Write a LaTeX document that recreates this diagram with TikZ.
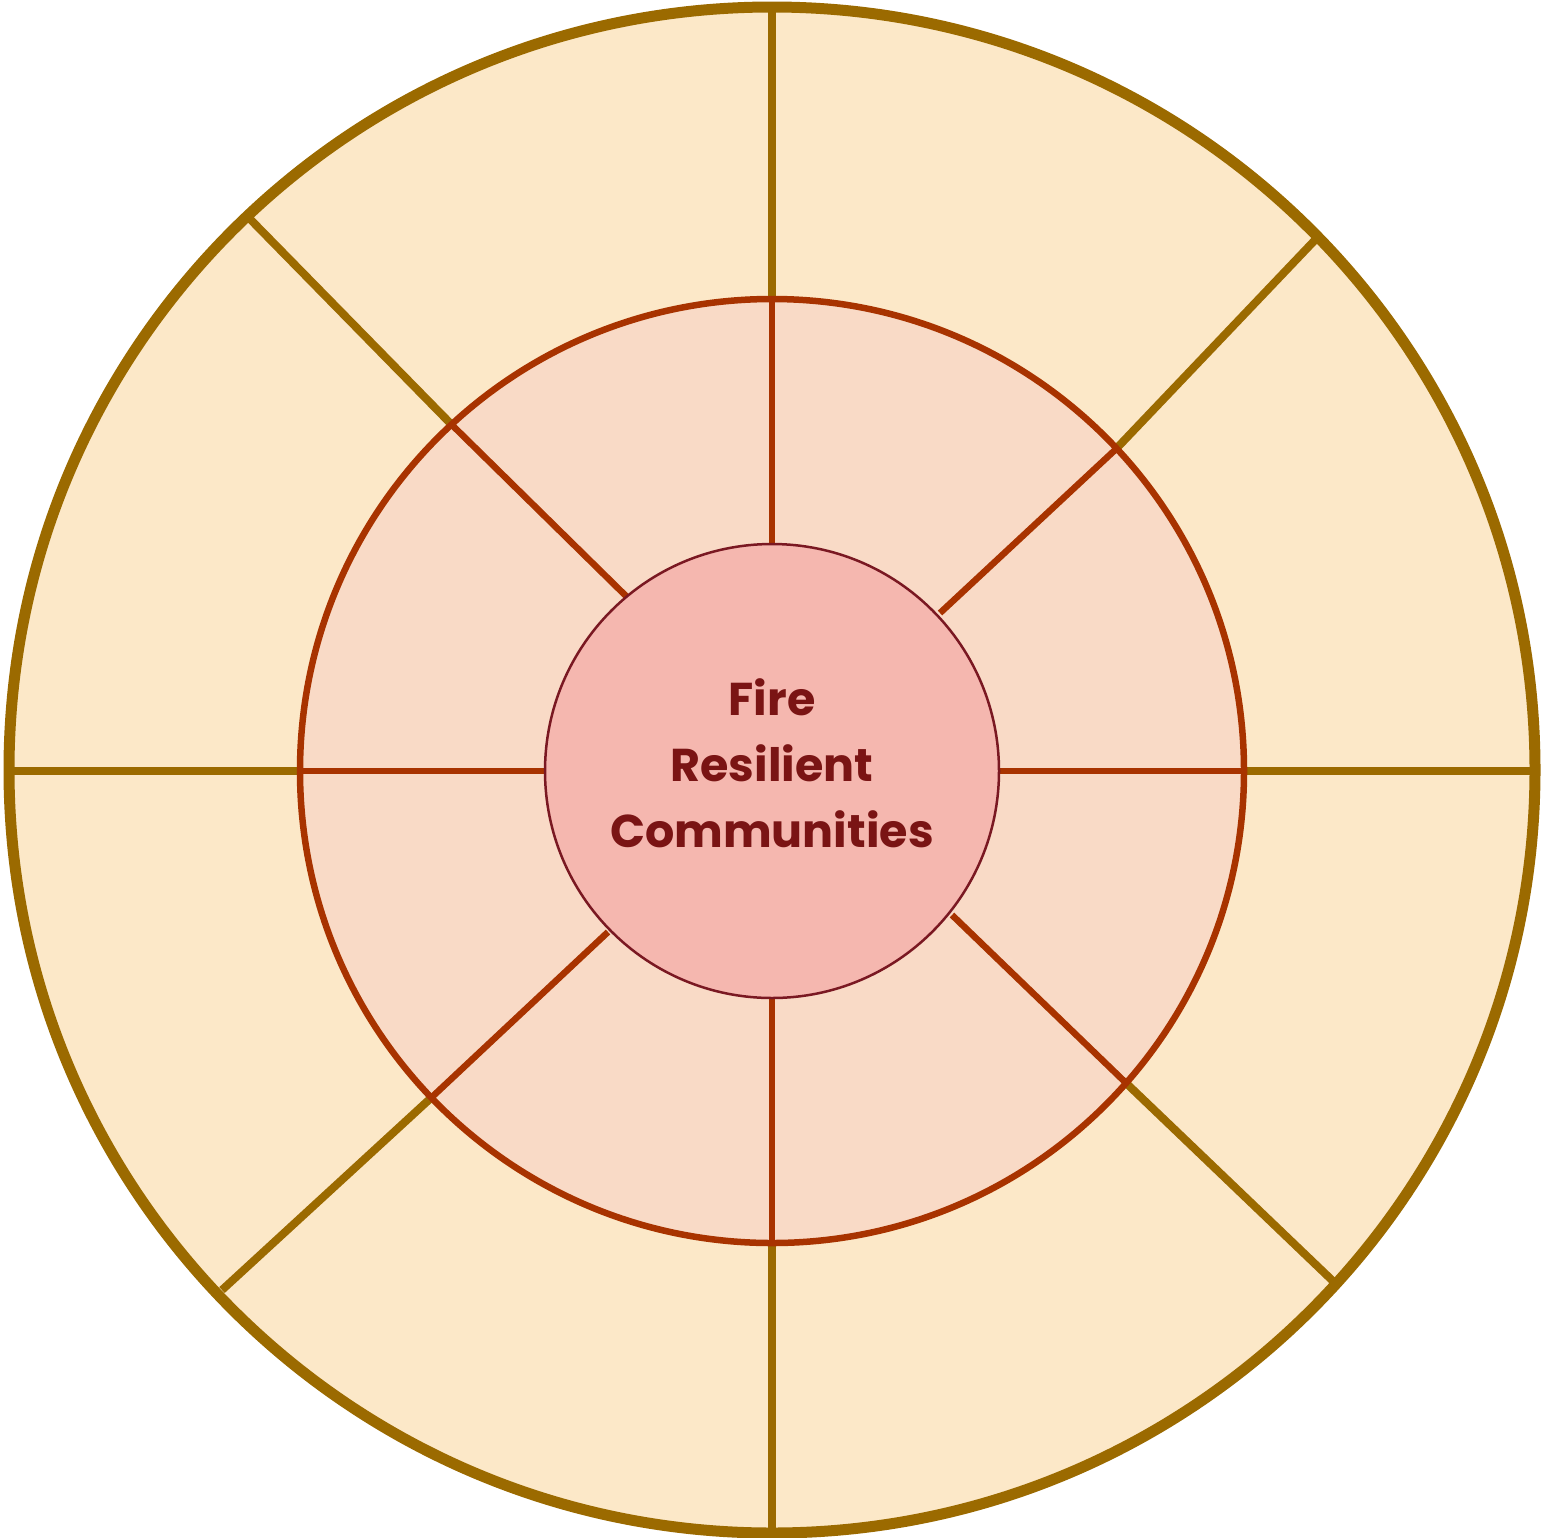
\documentclass[tikz,border=0pt]{standalone}
\usepackage{fontspec}
\setmainfont{Poppins}
\definecolor{outerstroke}{HTML}{9B6A00}
\definecolor{outerfill}{HTML}{FCE8C8}
\definecolor{midstroke}{HTML}{A83300}
\definecolor{midfill}{HTML}{F9DAC6}
\definecolor{innerstroke}{HTML}{7A1822}
\definecolor{innerfill}{HTML}{F5B7AF}
\definecolor{titlecol}{HTML}{7A1414}
\tikzset{
  outerline/.style={draw=outerstroke, line width=8pt},
  midline/.style={draw=midstroke, line width=6.5pt},
}
\begin{document}
\begin{tikzpicture}[x=1pt,y=-1pt]
\useasboundingbox (0,0) rectangle (1554,1537);
% circles
\fill[outerfill] (772,770) circle (763);
\fill[midfill] (772,771) circle (472);
% coordinates
\coordinate (oT) at (772,8);   \coordinate (mT) at (772,299);  \coordinate (iT) at (772,545);
\coordinate (oUR) at (1315,240); \coordinate (mUR) at (1115,450); \coordinate (iUR) at (940,613);
\coordinate (oR) at (1536,771); \coordinate (mR) at (1244,771); \coordinate (iR) at (999,771);
\coordinate (oLR) at (1336,1284); \coordinate (mLR) at (1125,1082); \coordinate (iLR) at (952,915);
\coordinate (oB) at (772,1532); \coordinate (mB) at (772,1243); \coordinate (iB) at (772,998);
\coordinate (oLL) at (222,1290); \coordinate (mLL) at (432,1097); \coordinate (iLL) at (608,932);
\coordinate (oL) at (8,771); \coordinate (mL) at (300,771); \coordinate (iL) at (545,771);
\coordinate (oUL) at (250,219); \coordinate (mUL) at (451,424); \coordinate (iUL) at (627,597);
% outer radial lines
\foreach \d in {T,UR,R,LR,B,LL,L,UL} {
  \draw[outerline] (o\d) -- (m\d);
}
% middle radial lines
\foreach \d in {T,UR,R,LR,B,LL,L,UL} {
  \draw[midline] (m\d) -- (i\d);
}
\draw[midstroke, line width=6.5pt] (772,771) circle (472);
\draw[outerstroke, line width=11pt] (772,770) circle (763);
\node[circle, minimum size=454pt, inner sep=0pt, fill=innerfill, draw=innerstroke, line width=2.5pt] (center) at (772,771) {};
\node[text=titlecol, font=\bfseries\fontsize{46}{66}\selectfont, align=center] (title) at (772,763) {Fire\\Resilient\\Communities};
\end{tikzpicture}
\end{document}
